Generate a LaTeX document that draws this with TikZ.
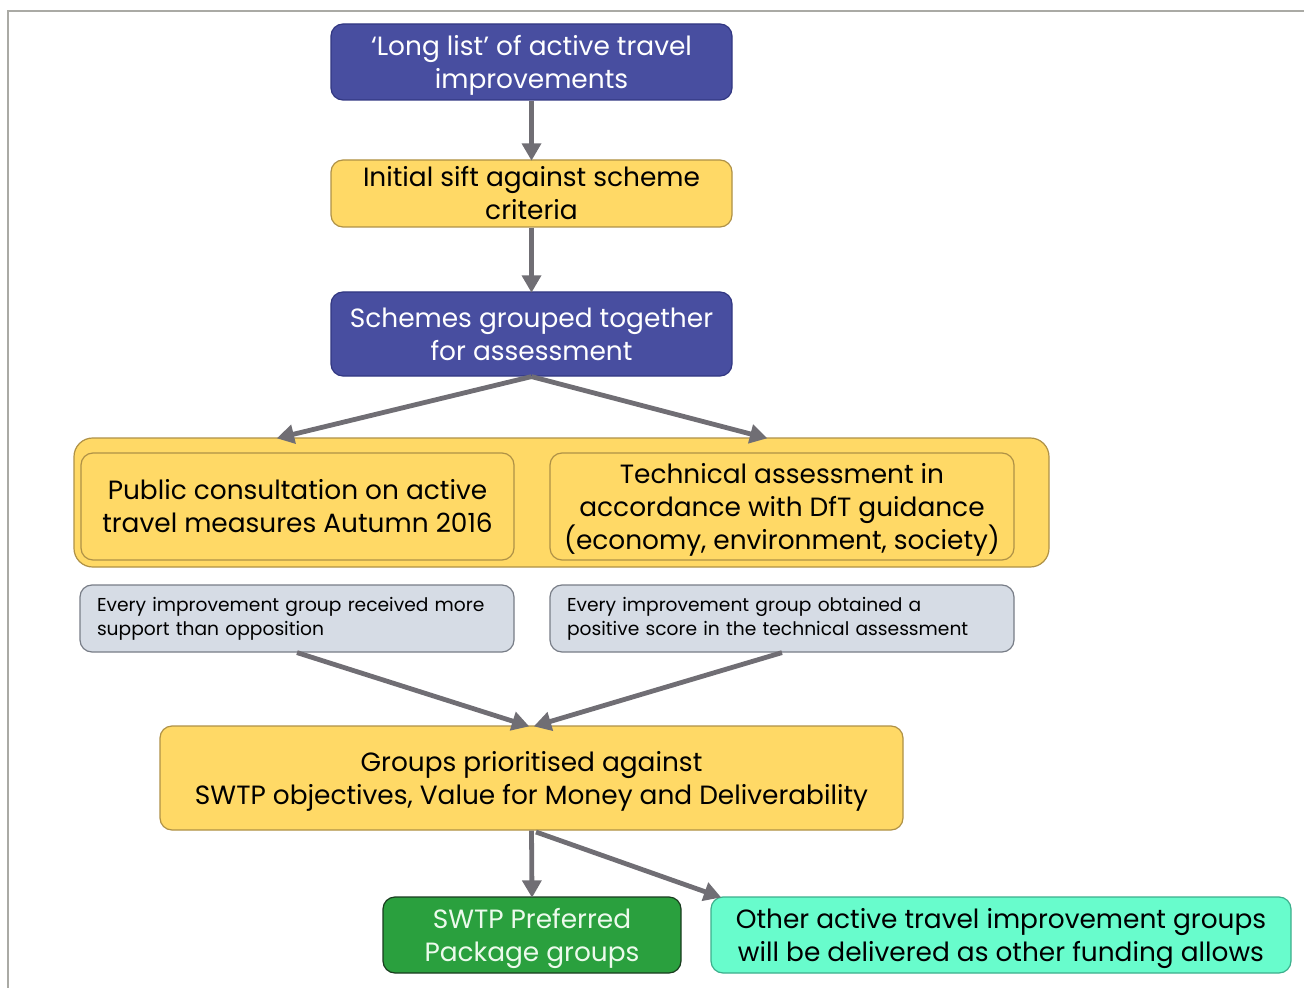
\documentclass[tikz,border=0pt]{standalone}
\usepackage{fontspec}
\setmainfont{Poppins}
\usetikzlibrary{arrows.meta}
\definecolor{bluef}{RGB}{72,78,160}
\definecolor{blued}{RGB}{50,55,130}
\definecolor{yelf}{RGB}{255,217,102}
\definecolor{yeld}{RGB}{175,145,70}
\definecolor{greyf}{RGB}{214,220,229}
\definecolor{greyd}{RGB}{120,125,135}
\definecolor{greenf}{RGB}{42,160,62}
\definecolor{greend}{RGB}{25,60,30}
\definecolor{greent}{RGB}{236,250,236}
\definecolor{aquaf}{RGB}{104,252,204}
\definecolor{aquad}{RGB}{60,175,140}
\definecolor{arrc}{RGB}{112,110,116}
\definecolor{framec}{RGB}{170,170,165}
\newcommand{\lowtxt}[1]{\raisebox{-2.4pt}[\height][\depth]{\begin{tabular}{@{}c@{}}#1\end{tabular}}}
\newcommand{\lowpar}[2]{\raisebox{-2.4pt}[\height][\depth]{\parbox{#1}{\centering #2}}}
\tikzset{
  sz/.style 2 args={minimum width=#1*0.75pt, minimum height=#2*0.75pt},
  base/.style={rounded corners=9pt, line width=0.9pt, inner sep=0pt, align=center, font=\fontsize{19.8}{24.75}\selectfont},
  bluebox/.style={base, fill=bluef, draw=blued, text=white},
  yelbox/.style={base, fill=yelf, draw=yeld, text=black},
  greybox/.style={base, fill=greyf, draw=greyd, text=black, align=left, font=\fontsize{14}{18}\selectfont},
  greenbox/.style={base, fill=greenf, draw=greend, text=greent},
  aquabox/.style={base, fill=aquaf, draw=aquad, text=black},
  arr/.style={draw=arrc, line width=3.6pt, -{Triangle[length=13pt,width=14pt]}, shorten >=-1pt},
}
\begin{document}
\begin{tikzpicture}[x=0.75pt, y=-0.75pt]
\useasboundingbox (0,0) rectangle (1304,988);
\draw[framec, line width=1.2pt] (8,988) -- (8,11) -- (1304,11);

\node[bluebox, sz={401}{76}] (long) at (531.5,62) {\lowtxt{`Long list' of active travel\\improvements}};
\node[yelbox, sz={401}{67}] (sift) at (531.5,193.5) {Initial sift against scheme\\criteria};
\node[bluebox, sz={401}{84}] (schemes) at (531.5,334) {Schemes grouped together\\for assessment};

\node[yelbox, sz={975}{129}, rounded corners=14pt] (cont) at (561.5,502.5) {};
\node[yelbox, sz={433}{107}] (pub) at (297.5,506.5) {Public consultation on active\\travel measures Autumn 2016};
\node[yelbox, sz={464}{107}] (tech) at (782,506.5) {\lowpar{330pt}{Technical assessment in\\accordance with DfT guidance\\(economy, environment, society)}};

\node[greybox, sz={434}{67}, text width=400*0.75pt] (gl) at (297,618.5) {Every improvement group received more\\support than opposition};
\node[greybox, sz={464}{67}, text width=430*0.75pt] (gr) at (782,618.5) {Every improvement group obtained a\\positive score in the technical assessment};

\node[yelbox, sz={743}{104}] (groups) at (531.5,778) {\lowtxt{Groups prioritised against\\SWTP objectives, Value for Money and Deliverability}};

\node[greenbox, sz={298}{76}] (swtp) at (532,935) {\lowtxt{SWTP Preferred\\Package groups}};
\node[aquabox, sz={580}{76}] (other) at (1001,935) {\lowtxt{Other active travel improvement groups\\will be delivered as other funding allows}};

\coordinate (tl) at (278,438);
\coordinate (tr) at (766,438);
\coordinate (gin1) at (528,726);
\coordinate (gin2) at (535,726);
\coordinate (gout) at (536,832);
\coordinate (oin) at (720,897);

\draw[arr] (long.south) -- (sift.north);
\draw[arr] (sift.south) -- (schemes.north);
\draw[arr] (schemes.south) -- (tl);
\draw[arr] (schemes.south) -- (tr);
\draw[arr] (gl.south) -- (gin1);
\draw[arr] (gr.south) -- (gin2);
\draw[arr] (groups.south) -- (swtp.north);
\draw[arr] (gout) -- (oin);
\end{tikzpicture}
\end{document}
